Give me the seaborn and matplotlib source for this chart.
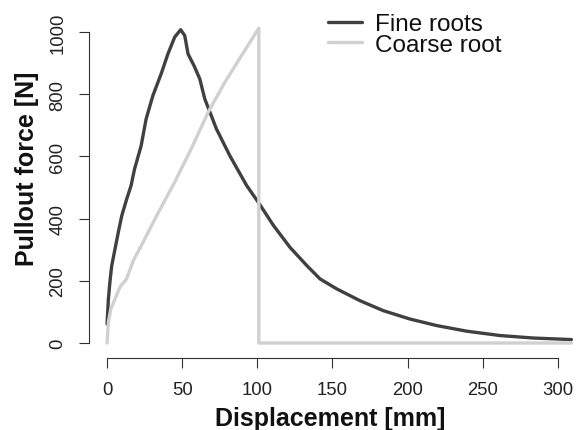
import matplotlib
matplotlib.use("Agg")
import matplotlib.pyplot as plt
from matplotlib.lines import Line2D
import seaborn as sns
import pandas as pd

# Data
fine_x = [0, 0.9, 2.0, 3.1, 5.3, 7.5, 9.8, 13.1, 16.0, 18.3, 22.7, 26.0, 30.5, 36.0, 40.5, 45.0, 49.0,
          51.7, 53.9, 58.0, 61.7, 65.0, 72.8, 81.7, 92.9, 100.7, 110.7, 121.8, 132.9, 141.7,
          152.8, 168.3, 183.8, 201.6, 219.4, 239.3, 261.5, 283.6, 309.0]
fine_y = [61, 141, 200, 248, 302, 356, 409, 463, 506, 559, 634, 720, 795, 865, 929, 983, 1007,
          988, 929, 890, 849, 785, 688, 602, 506, 452, 378, 307, 249, 206,
          174, 136, 104, 77, 56, 38, 24, 16, 11]

coarse_x = [0, 0.9, 2.5, 8.6, 13.0, 17.5, 24.0, 33.0, 45.0, 56.0, 67.3, 78.4, 89.5, 101.0, 101.0, 309.0]
coarse_y = [0, 67, 109, 180, 206, 265, 324, 409, 517, 624, 742, 838, 924, 1012, 0, 0]

series_names = ["Fine roots", "Coarse root"]
xticks = [0, 50, 100, 150, 200, 250, 300]
yticks = [0, 200, 400, 600, 800, 1000]

df = pd.concat([
    pd.DataFrame({"x": fine_x, "y": fine_y, "series": series_names[0]}),
    pd.DataFrame({"x": coarse_x, "y": coarse_y, "series": series_names[1]}),
], ignore_index=True)

sns.set_style("ticks")
plt.rcParams['font.family'] = ['Liberation Sans', 'DejaVu Sans']

W, H = 577, 431
fig = plt.figure(figsize=(W / 100, H / 100), dpi=100)
ax = fig.add_axes([89 / W, (H - 359) / H, (W - 89) / W, (359 - 17) / H])

palette = {"Fine roots": "#404040", "Coarse root": "#d0d0d0"}
sns.lineplot(data=df, x="x", y="y", hue="series", palette=palette, estimator=None,
             sort=False, linewidth=2.4, ax=ax, legend=False)

ax.set_xlim(-12.0, 312.7)
ax.set_ylim(-48.2, 1051)

for s in ["top", "right"]:
    ax.spines[s].set_visible(False)
ax.spines["left"].set_bounds(0, 1000)
ax.spines["bottom"].set_bounds(0, 300)
for s in ["left", "bottom"]:
    ax.spines[s].set_color("#333333")
    ax.spines[s].set_linewidth(0.8)

ax.set_xticks(xticks)
ax.set_yticks(yticks)
ax.tick_params(axis="both", direction="out", length=7.2, width=0.8, color="#333333",
               labelsize=13.3, labelcolor="#222222", pad=9.2)
plt.setp(ax.get_yticklabels(), rotation=90, va="center")

ax.set_xlabel("Displacement [mm]", fontsize=18, fontweight="bold", color="#111111")
ax.set_ylabel("Pullout force [N]", fontsize=18, fontweight="bold", color="#111111")
ax.xaxis.set_label_coords(330 / W, (H - 407) / H, transform=fig.transFigure)
ax.yaxis.set_label_coords(39 / W, (H - 169) / H, transform=fig.transFigure)

handles = [Line2D([], [], color=palette[n], linewidth=2.4) for n in series_names]
leg = ax.legend(handles, series_names, loc="upper left",
                bbox_to_anchor=(328 / W, (H - 14) / H), bbox_transform=fig.transFigure,
                frameon=False, fontsize=17.5, handlelength=1.4, handletextpad=0.53,
                labelspacing=-0.05, borderpad=0, borderaxespad=0)
for t in leg.get_texts():
    t.set_color("#111111")

fig.savefig("out.png", dpi=100)
